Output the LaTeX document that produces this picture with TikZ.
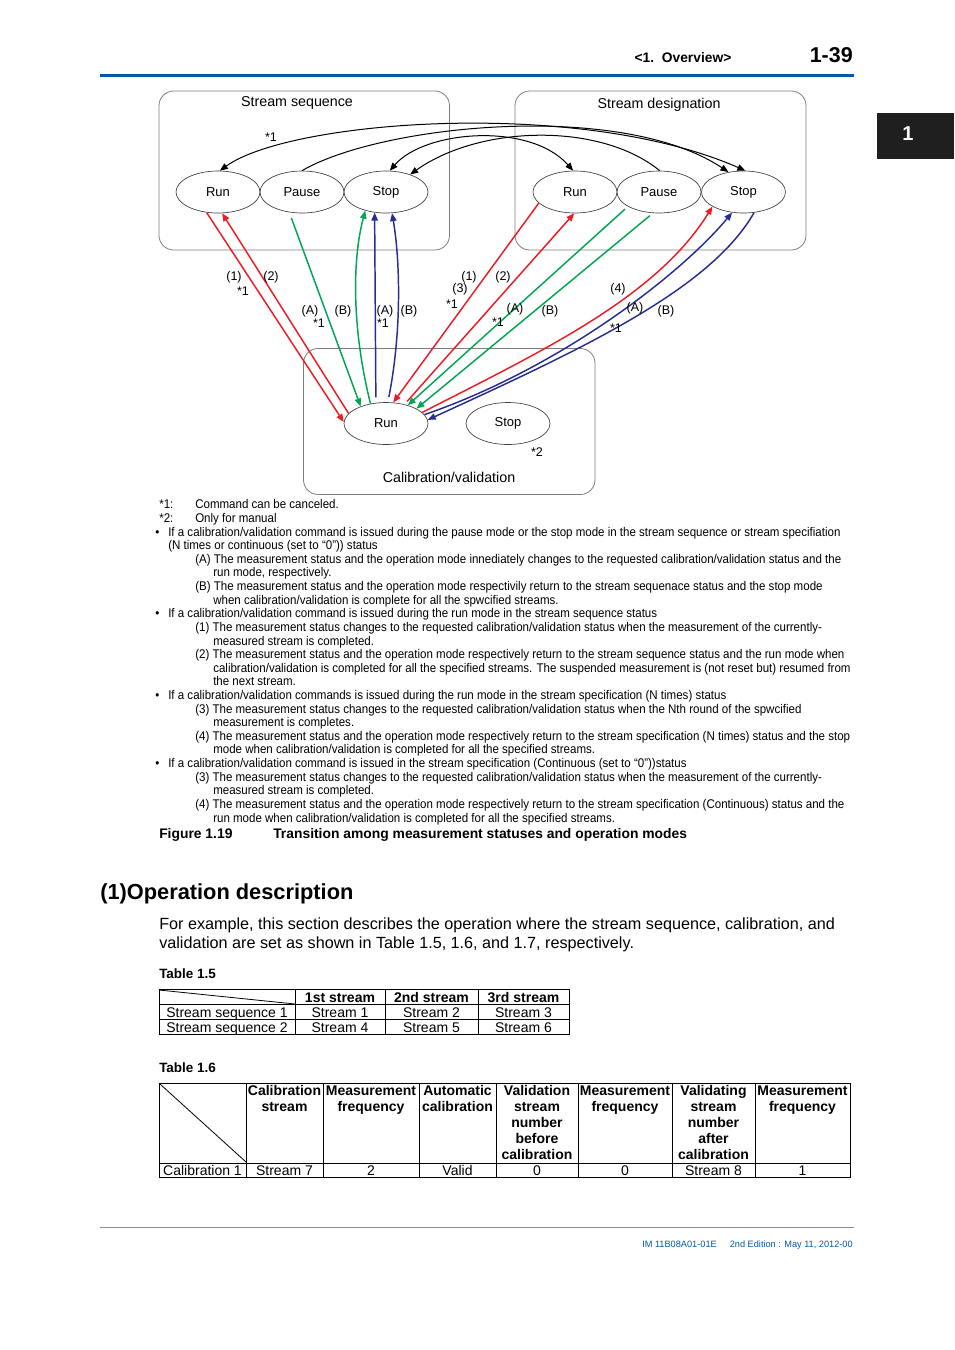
\documentclass[tikz,border=0pt]{standalone}
\usepackage{fontspec}
\setmainfont{Liberation Sans}
\newfontfamily\condf[FakeStretch=0.915]{Liberation Sans}
\usetikzlibrary{shapes.geometric,arrows.meta}
\definecolor{ykblue}{RGB}{0,90,170}
\definecolor{lred}{RGB}{237,28,36}
\definecolor{lgreen}{RGB}{0,166,81}
\definecolor{lnavy}{RGB}{40,45,145}
\definecolor{boxgray}{RGB}{125,125,125}
\newcommand\myfs[2]{\fontsize{#1}{#2}\selectfont}
\begin{document}
\begin{tikzpicture}[x=0.75pt,y=-0.75pt,
  state/.style={ellipse, draw=black!75, line width=0.5pt, minimum width=63pt, minimum height=31.5pt, inner sep=0pt, font=\myfs{9.75pt}{11pt}},
  grpbox/.style={draw=boxgray, line width=0.6pt, rounded corners=11pt},
  ttl/.style={inner sep=0pt, font=\myfs{10.7pt}{12pt}},
  lbl/.style={inner sep=0pt, font=\myfs{9.4pt}{11pt}},
  nt/.style={anchor=base west, inner sep=0pt, font=\condf\myfs{9.45pt}{11pt}},
  figcap/.style={anchor=base west, inner sep=0pt, font=\bfseries\myfs{10.4pt}{12pt}},
  sarr/.style={arrows={-Triangle[length=6pt,width=4.8pt]}},
  barr/.style={arrows={Triangle[length=6pt,width=4.8pt]-Triangle[length=6pt,width=4.8pt]}},
  blk/.style={draw=black, line width=0.75pt},
  rl/.style={draw=lred, line width=1.1pt},
  gl/.style={draw=lgreen, line width=1.1pt},
  nl/.style={draw=lnavy, line width=1.1pt},
  tb/.style={draw=black, line width=0.75pt},
  tcell/.style={anchor=base, inner sep=0pt, font=\myfs{10.5pt}{12pt}},
  thead/.style={anchor=base, inner sep=0pt, font=\bfseries\myfs{10.5pt}{12pt}},
  theadm/.style={anchor=north, inner sep=0pt, align=center, font=\bfseries\myfs{10.5pt}{12pt}},
  foot/.style={anchor=base west, inner sep=0pt, text=ykblue, font=\myfs{6.9pt}{8pt}}
]
\useasboundingbox[fill=white] (0,0) rectangle (954,1350);

% ---------- page header ----------
\node[anchor=base, inner sep=0pt, font=\bfseries\myfs{10.35pt}{12pt}] (hdr) at (683,62) {<1.\ \ Overview>};
\node[anchor=base east, inner sep=0pt, font=\bfseries\myfs{16.1pt}{18pt}] (pgno) at (853,62) {1-39};
\draw[ykblue, line width=2.25pt] (100,75) -- (854,75);
\fill[black!88] (877,113) rectangle (954,159);
\node[text=white, inner sep=0pt, font=\bfseries\myfs{15pt}{17pt}] (tab) at (908,134) {1};

% ---------- diagram boxes ----------
\draw[grpbox] (159,91) rectangle (449.5,250);
\draw[grpbox] (515,91) rectangle (806,250);
\draw[grpbox] (303.5,348.5) rectangle (595,494.5);
\node[ttl] (tSeq) at (297,103) {Stream sequence};
\node[ttl] (tDes) at (659,105) {Stream designation};
\node[ttl] (tCal) at (449,477) {Calibration/validation};

% ---------- states ----------
\node[state] (LRun) at (218,192) {Run};
\node[state] (LPause) at (302,192) {Pause};
\node[state] (LStop) at (386,192) {Stop};
\node[state] (RRun) at (575,192) {Run};
\node[state] (RPause) at (659,192) {Pause};
\node[state] (RStop) at (743.5,192) {Stop};
\node[state] (CRun) at (386,423.5) {Run};
\node[state] (CStop) at (508,423.5) {Stop};

% ---------- black transitions ----------
\draw[blk, barr] (LRun.85) .. controls (290,120) and (580,98) .. (RStop.85);
\draw[blk, sarr] (LPause.90) .. controls (380,125) and (620,100) .. (RStop.127);
\draw[blk, sarr] (RPause.88) .. controls (600,122) and (480,125) .. (LStop.36);
\draw[blk, barr] (LStop.80) .. controls (425,130) and (530,122) .. (RRun.95);

% ---------- left coloured transitions ----------
\draw[rl, sarr] (LRun.241) -- (CRun.178);
\draw[rl, sarr] (CRun.165) -- (LRun.281);
\draw[gl, sarr, shorten <=4.5pt] (LPause.238) -- (CRun.146);
\draw[gl, sarr] (CRun.128) .. controls (352,330) and (352,260) .. (LStop.222);
\draw[nl, sarr, shorten <=4pt] (CRun.116) -- (LStop.241);
\draw[nl, sarr, shorten <=4pt] (CRun.85) .. controls (402,330) and (400,260) .. (LStop.286);

% ---------- right coloured transitions ----------
\draw[rl, sarr] (RRun.197) -- (CRun.71);
\draw[rl, sarr, shorten <=3pt] (CRun.46) -- (RRun.268);
\draw[gl, sarr, shorten <=3pt] (RPause.205) -- (CRun.40);
\draw[gl, sarr, shorten <=3pt] (RPause.254) -- (CRun.26);
\draw[rl, sarr] (CRun.17) .. controls (540,352) and (656,298) .. (RStop.205);
\draw[nl, sarr] (CRun.13) .. controls (560,368) and (680,275) .. (RStop.241);
\draw[nl, sarr] (RStop.297) .. controls (710,290) and (580,350) .. (CRun.5);

% ---------- labels ----------
\node[lbl] (s1) at (271,137) {*1};
\node[lbl] (s2) at (537,452) {*2};
\node[lbl] (la1) at (234,277) {(1)};
\node[lbl] (la2) at (243,291) {*1};
\node[lbl] (la3) at (271,277) {(2)};
\node[lbl] (la4) at (310,311) {(A)};
\node[lbl] (la5) at (319,323) {*1};
\node[lbl] (la6) at (343,311) {(B)};
\node[lbl] (la7) at (385,311) {(A)};
\node[lbl] (la8) at (383,323) {*1};
\node[lbl] (la9) at (409,311) {(B)};
\node[lbl] (lb1) at (469,277) {(1)};
\node[lbl] (lb2) at (460,289) {(3)};
\node[lbl] (lb3) at (452,304) {*1};
\node[lbl] (lb4) at (503,277) {(2)};
\node[lbl] (lb5) at (498,322) {*1};
\node[lbl] (lb6) at (515,309) {(A)};
\node[lbl] (lb7) at (550,311) {(B)};
\node[lbl] (lb8) at (618,289) {(4)};
\node[lbl] (lb9) at (616,328) {*1};
\node[lbl] (lb10) at (635,308) {(A)};
\node[lbl] (lb11) at (666,311) {(B)};

% ---------- notes ----------
\node[nt] (n1a) at (159,508) {*1:};
\node[nt] (n1b) at (195,508) {Command can be canceled.};
\node[nt] (n2a) at (159,522) {*2:};
\node[nt] (n2b) at (195,522) {Only for manual};
\node[nt] (b1) at (155,536) {•};
\node[nt] (n3) at (168,536) {If a calibration/validation command is issued during the pause mode or the stop mode in the stream sequence or stream specifiation};
\node[nt] (n4) at (168,549) {(N times or continuous (set to “0”)) status};
\node[nt] (n5) at (195,563) {(A) The measurement status and the operation mode innediately changes to the requested calibration/validation status and the};
\node[nt] (n6) at (213,576) {run mode, respectively.};
\node[nt] (n7) at (195,590) {(B) The measurement status and the operation mode respectivily return to the stream sequenace status and the stop mode};
\node[nt] (n8) at (213,604) {when calibration/validation is complete for all the spwcified streams.};
\node[nt] (b2) at (155,617) {•};
\node[nt] (n9) at (168,617) {If a calibration/validation command is issued during the run mode in the stream sequence status};
\node[nt] (n10) at (195,631) {(1) The measurement status changes to the requested calibration/validation status when the measurement of the currently-};
\node[nt] (n11) at (213,645) {measured stream is completed.};
\node[nt] (n12) at (195,658) {(2) The measurement status and the operation mode respectively return to the stream sequence status and the run mode when};
\node[nt] (n13) at (213,672) {calibration/validation is completed for all the specified streams. The suspended measurement is (not reset but) resumed from};
\node[nt] (n14) at (213,685) {the next stream.};
\node[nt] (b3) at (155,699) {•};
\node[nt] (n15) at (168,699) {If a calibration/validation commands is issued during the run mode in the stream specification (N times) status};
\node[nt] (n16) at (195,713) {(3) The measurement status changes to the requested calibration/validation status when the Nth round of the spwcified};
\node[nt] (n17) at (213,726) {measurement is completes.};
\node[nt] (n18) at (195,740) {(4) The measurement status and the operation mode respectively return to the stream specification (N times) status and the stop};
\node[nt] (n19) at (213,753) {mode when calibration/validation is completed for all the specified streams.};
\node[nt] (b4) at (155,767) {•};
\node[nt] (n20) at (168,767) {If a calibration/validation command is issued in the stream specification (Continuous (set to “0”))status};
\node[nt] (n21) at (195,781) {(3) The measurement status changes to the requested calibration/validation status when the measurement of the currently-};
\node[nt] (n22) at (213,794) {measured stream is completed.};
\node[nt] (n23) at (195,808) {(4) The measurement status and the operation mode respectively return to the stream specification (Continuous) status and the};
\node[nt] (n24) at (213,822) {run mode when calibration/validation is completed for all the specified streams.};
\node[figcap] (fig) at (159,838) {Figure 1.19};
\node[figcap] (figt) at (273,838) {Transition among measurement statuses and operation modes};

% ---------- section ----------
\node[anchor=base west, inner sep=0pt, font=\bfseries\myfs{16.35pt}{19pt}] (sec) at (100,899) {(1)Operation description};
\node[anchor=base west, inner sep=0pt, font=\myfs{12.14pt}{14pt}] (p1) at (159,929) {For example, this section describes the operation where the stream sequence, calibration, and};
\node[anchor=base west, inner sep=0pt, font=\myfs{12.14pt}{14pt}] (p2) at (159,948) {validation are set as shown in Table 1.5, 1.6, and 1.7, respectively.};

% ---------- Table 1.5 ----------
\node[anchor=base west, inner sep=0pt, font=\bfseries\myfs{10.1pt}{12pt}] (tl5) at (159,978) {Table 1.5};
\draw[tb] (159,989) rectangle (569,1034);
\draw[tb] (159,1004) -- (569,1004) (159,1019) -- (569,1019);
\draw[tb] (295,989) -- (295,1034) (385,989) -- (385,1034) (478,989) -- (478,1034);
\draw[tb, line width=0.6pt] (159,990) -- (295,1004);
\node[thead] (h51) at (340,1002) {1st stream};
\node[thead] (h52) at (431.5,1002) {2nd stream};
\node[thead] (h53) at (523.5,1002) {3rd stream};
\node[tcell] (r511) at (227,1017) {Stream sequence 1};
\node[tcell] (r512) at (340,1017) {Stream 1};
\node[tcell] (r513) at (431.5,1017) {Stream 2};
\node[tcell] (r514) at (523.5,1017) {Stream 3};
\node[tcell] (r521) at (227,1032) {Stream sequence 2};
\node[tcell] (r522) at (340,1032) {Stream 4};
\node[tcell] (r523) at (431.5,1032) {Stream 5};
\node[tcell] (r524) at (523.5,1032) {Stream 6};

% ---------- Table 1.6 ----------
\node[anchor=base west, inner sep=0pt, font=\bfseries\myfs{10.1pt}{12pt}] (tl6) at (159,1072) {Table 1.6};
\draw[tb] (159,1083) rectangle (850,1177);
\draw[tb] (159,1163) -- (850,1163);
\draw[tb] (246,1083) -- (246,1177) (323,1083) -- (323,1177) (419,1083) -- (419,1177) (496,1083) -- (496,1177)
          (578,1083) -- (578,1177) (672,1083) -- (672,1177) (755,1083) -- (755,1177);
\draw[tb, line width=0.6pt] (160,1084) -- (246,1162);
\node[theadm] (h61) at (284.5,1085.5) {Calibration\\stream};
\node[theadm] (h62) at (371,1085.5) {Measurement\\frequency};
\node[theadm] (h63) at (457.5,1085.5) {Automatic\\calibration};
\node[theadm] (h64) at (537,1085.5) {Validation\\stream\\number\\before\\calibration};
\node[theadm] (h65) at (625,1085.5) {Measurement\\frequency};
\node[theadm] (h66) at (713.5,1085.5) {Validating\\stream\\number\\after\\calibration};
\node[theadm] (h67) at (802.5,1085.5) {Measurement\\frequency};
\node[tcell] (r61) at (202.5,1175) {Calibration 1};
\node[tcell] (r62) at (284.5,1175) {Stream 7};
\node[tcell] (r63) at (371,1175) {2};
\node[tcell] (r64) at (457.5,1175) {Valid};
\node[tcell] (r65) at (537,1175) {0};
\node[tcell] (r66) at (625,1175) {0};
\node[tcell] (r67) at (713.5,1175) {Stream 8};
\node[tcell] (r68) at (802.5,1175) {1};

% ---------- footer ----------
\draw[black!45, line width=0.6pt] (100,1227) -- (854,1227);
\node[foot] (f1) at (642,1247) {IM 11B08A01-01E};
\node[foot, anchor=base east] (f2) at (853,1247) {2nd Edition : May 11, 2012-00};
\end{tikzpicture}
\end{document}
